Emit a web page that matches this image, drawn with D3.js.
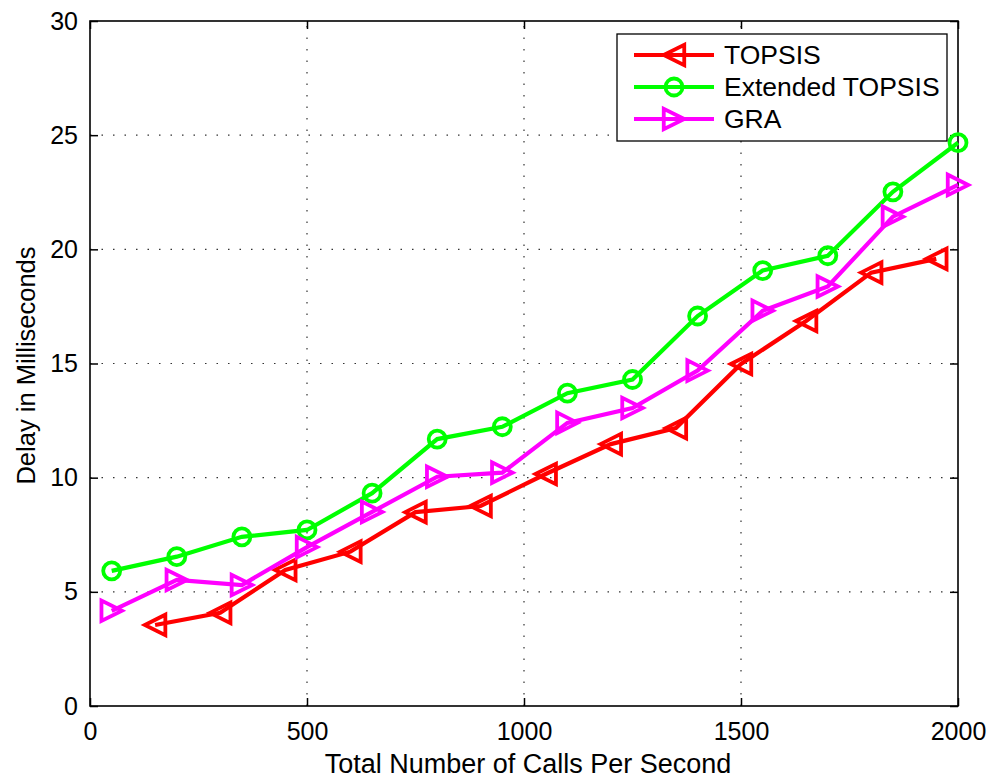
<!DOCTYPE html>
<html>
<head>
<meta charset="utf-8">
<script src="https://cdn.jsdelivr.net/npm/d3@7"></script>
<style>
  body { margin: 0; background: #fff; }
  text { font-family: "Liberation Sans", Arial, sans-serif; fill: #000; }
</style>
</head>
<body>
<div id="chart"></div>
<script>
// data
const topsisX = [150, 300, 450, 600, 750, 900, 1050, 1200, 1350, 1500, 1650, 1800, 1950];
const topsisY = [3.55, 4.08, 5.96, 6.76, 8.49, 8.76, 10.16, 11.47, 12.17, 14.98, 16.86, 18.98, 19.58];
const callsX = [50, 200, 350, 500, 650, 800, 950, 1100, 1250, 1400, 1550, 1700, 1850, 2000];
const extY = [5.92, 6.54, 7.41, 7.71, 9.32, 11.69, 12.23, 13.7, 14.3, 17.08, 19.07, 19.72, 22.52, 24.67];
const graY = [4.17, 5.52, 5.3, 6.96, 8.5, 10.04, 10.22, 12.4, 13.05, 14.69, 17.31, 18.37, 21.43, 22.82];
const xTicks = [0, 500, 1000, 1500, 2000];
const yTicks = [0, 5, 10, 15, 20, 25, 30];
const seriesNames = ["TOPSIS", "Extended TOPSIS", "GRA"];

const width = 997, height = 782;
const margin = {left: 90, right: 39, top: 21, bottom: 76};

const svg = d3.select("#chart")
  .append("svg")
  .attr("width", width)
  .attr("height", height);

const x = d3.scaleLinear().domain([0, 2000]).range([margin.left, width - margin.right]);
const y = d3.scaleLinear().domain([0, 30]).range([height - margin.bottom, margin.top]);

// dotted grid
svg.append("g")
  .selectAll("line")
  .data(xTicks.slice(1, -1))
  .enter().append("line")
  .attr("x1", d => x(d)).attr("x2", d => x(d))
  .attr("y1", y(0)).attr("y2", y(30))
  .attr("stroke", "#333").attr("stroke-width", 1.2)
  .attr("stroke-dasharray", "1.5,10");

svg.append("g")
  .selectAll("line")
  .data(yTicks.slice(1, -1))
  .enter().append("line")
  .attr("y1", d => y(d)).attr("y2", d => y(d))
  .attr("x1", x(0)).attr("x2", x(2000))
  .attr("stroke", "#333").attr("stroke-width", 1.2)
  .attr("stroke-dasharray", "1.5,10");

// axes, ticks pointing inward like matlab
const tickLen = 8;
svg.append("g")
  .attr("transform", "translate(0," + y(0) + ")")
  .call(d3.axisBottom(x).tickValues(xTicks).tickFormat(d3.format("d"))
    .tickSizeInner(-tickLen).tickSizeOuter(0).tickPadding(16))
  .call(g => g.select(".domain").remove())
  .call(g => g.selectAll("text").attr("font-size", 25).attr("font-family", "Liberation Sans"));

svg.append("g")
  .attr("transform", "translate(0," + y(30) + ")")
  .call(d3.axisTop(x).tickValues(xTicks).tickSizeInner(-tickLen).tickSizeOuter(0).tickFormat(""))
  .call(g => g.select(".domain").remove());

svg.append("g")
  .attr("transform", "translate(" + x(0) + ",0)")
  .call(d3.axisLeft(y).tickValues(yTicks).tickSizeInner(-tickLen).tickSizeOuter(0).tickPadding(12))
  .call(g => g.select(".domain").remove())
  .call(g => g.selectAll("text").attr("font-size", 25).attr("font-family", "Liberation Sans"));

svg.append("g")
  .attr("transform", "translate(" + x(2000) + ",0)")
  .call(d3.axisRight(y).tickValues(yTicks).tickSizeInner(-tickLen).tickSizeOuter(0).tickFormat(""))
  .call(g => g.select(".domain").remove());

svg.selectAll(".tick line").attr("stroke", "#000").attr("stroke-width", 1.5);

// frame
svg.append("rect")
  .attr("x", x(0)).attr("y", y(30))
  .attr("width", x(2000) - x(0)).attr("height", y(0) - y(30))
  .attr("fill", "none").attr("stroke", "#000").attr("stroke-width", 1.6);

// axis titles
svg.append("text")
  .attr("x", (x(0) + x(2000)) / 2 + 4).attr("y", 773)
  .attr("text-anchor", "middle").attr("font-size", 27)
  .text("Total Number of Calls Per Second");

svg.append("text")
  .attr("transform", "translate(35," + ((y(0) + y(30)) / 2 + 2) + ") rotate(-90)")
  .attr("text-anchor", "middle").attr("font-size", 25.5)
  .text("Delay in Milliseconds");

// marker shapes
const triLeft = d3.symbol().type({
  draw(ctx, size) {
    const r = Math.sqrt(size) / 2;
    ctx.moveTo(-r, 0); ctx.lineTo(r, -r); ctx.lineTo(r, r); ctx.closePath();
  }
}).size(420);
const triRight = d3.symbol().type({
  draw(ctx, size) {
    const r = Math.sqrt(size) / 2;
    ctx.moveTo(r, 0); ctx.lineTo(-r, -r); ctx.lineTo(-r, r); ctx.closePath();
  }
}).size(420);

const series = [
  {name: seriesNames[0], xs: topsisX, ys: topsisY, color: "#ff0000", marker: "tl"},
  {name: seriesNames[1], xs: callsX, ys: extY, color: "#00ff00", marker: "o"},
  {name: seriesNames[2], xs: callsX, ys: graY, color: "#ff00ff", marker: "tr"}
];

const line = d3.line().x(d => x(d[0])).y(d => y(d[1]));

function drawMarker(g, m, color) {
  if (m === "o") {
    g.append("circle").attr("r", 8.5).attr("fill", "none")
      .attr("stroke", color).attr("stroke-width", 3.8);
  } else {
    g.append("path").attr("d", m === "tl" ? triLeft() : triRight())
      .attr("fill", "none").attr("stroke", color).attr("stroke-width", 3.8)
      .attr("stroke-linejoin", "miter");
  }
}

series.forEach(s => {
  const pts = s.xs.map((v, i) => [v, s.ys[i]]);
  svg.append("path")
    .datum(pts)
    .attr("d", line)
    .attr("fill", "none")
    .attr("stroke", s.color)
    .attr("stroke-width", 4.2);
  svg.append("g").selectAll("g")
    .data(pts)
    .enter().append("g")
    .attr("transform", d => "translate(" + x(d[0]) + "," + y(d[1]) + ")")
    .each(function () { drawMarker(d3.select(this), s.marker, s.color); });
});

// legend
const lg = svg.append("g").attr("transform", "translate(617,34)");
lg.append("rect").attr("width", 330).attr("height", 107)
  .attr("fill", "#fff").attr("stroke", "#000").attr("stroke-width", 1.3);
series.forEach((s, i) => {
  const yy = 21 + i * 32;
  lg.append("line").attr("x1", 17).attr("x2", 97).attr("y1", yy).attr("y2", yy)
    .attr("stroke", s.color).attr("stroke-width", 4.2);
  const mg = lg.append("g").attr("transform", "translate(57," + yy + ")");
  drawMarker(mg, s.marker, s.color);
  lg.append("text").attr("x", 107).attr("y", yy + 9)
    .attr("font-size", 26.5).text(s.name);
});
</script>
</body>
</html>
